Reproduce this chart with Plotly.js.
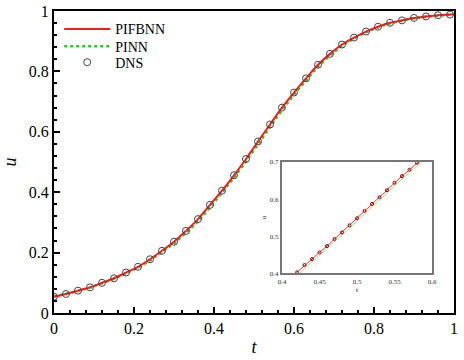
<!DOCTYPE html>
<html>
<head>
<meta charset="utf-8">
<script src="https://cdn.plot.ly/plotly-3.0.1.min.js"></script>
<style>
  html, body { margin: 0; padding: 0; background: #fff; }
  #chart { width: 464px; height: 360px; }
</style>
</head>
<body>
<div id="chart"></div>
<script>
// main panel: sample times (every 0.03) + end point
let lineT = [0, 0.03, 0.06, 0.09, 0.12, 0.15, 0.18, 0.21, 0.24, 0.27, 0.30, 0.33, 0.36, 0.39, 0.42, 0.45, 0.48,
    0.51, 0.54, 0.57, 0.60, 0.63, 0.66, 0.69, 0.72, 0.75, 0.78, 0.81, 0.84, 0.87, 0.90, 0.93, 0.96, 0.99, 1.0];
let pifbnnU = [0.054, 0.063, 0.074, 0.085, 0.100, 0.115, 0.134, 0.153, 0.178, 0.206, 0.236, 0.272, 0.311, 0.358, 0.405, 0.456, 0.510,
    0.568, 0.624, 0.680, 0.730, 0.777, 0.822, 0.858, 0.889, 0.912, 0.932, 0.948, 0.961, 0.969, 0.977, 0.982, 0.986, 0.988, 0.989];
let pinnU = [0.055, 0.063, 0.073, 0.084, 0.098, 0.113, 0.131, 0.150, 0.174, 0.201, 0.230, 0.265, 0.303, 0.349, 0.397, 0.448, 0.502,
    0.560, 0.616, 0.672, 0.723, 0.771, 0.816, 0.853, 0.885, 0.909, 0.930, 0.946, 0.959, 0.968, 0.976, 0.981, 0.985, 0.988, 0.989];
let dnsT = [0, 0.03, 0.06, 0.09, 0.12, 0.15, 0.18, 0.21, 0.24, 0.27, 0.30, 0.33, 0.36, 0.39, 0.42, 0.45, 0.48,
    0.51, 0.54, 0.57, 0.60, 0.63, 0.66, 0.69, 0.72, 0.75, 0.78, 0.81, 0.84, 0.87, 0.90, 0.93, 0.96, 0.99];
let dnsU = [0.054, 0.063, 0.074, 0.085, 0.100, 0.115, 0.134, 0.153, 0.178, 0.206, 0.236, 0.272, 0.311, 0.358, 0.405, 0.456, 0.510,
    0.568, 0.624, 0.680, 0.730, 0.777, 0.822, 0.858, 0.889, 0.912, 0.932, 0.948, 0.961, 0.969, 0.977, 0.982, 0.986, 0.988];

// inset (zoom on 0.4 - 0.6)
let insetT = [0.41, 0.42, 0.43, 0.44, 0.45, 0.46, 0.47, 0.48, 0.49, 0.50, 0.51, 0.52, 0.53, 0.54, 0.55, 0.56, 0.57, 0.58, 0.59];
let insetPifbnn = [0.384, 0.402, 0.422, 0.438, 0.456, 0.473, 0.492, 0.510, 0.529, 0.548, 0.568, 0.587, 0.605, 0.624, 0.644, 0.662, 0.679, 0.698, 0.716];
let insetPinn = [0.376, 0.394, 0.413, 0.430, 0.448, 0.465, 0.484, 0.502, 0.521, 0.540, 0.560, 0.579, 0.597, 0.616, 0.636, 0.654, 0.671, 0.690, 0.708];
let insetDnsT = [0.42, 0.43, 0.44, 0.45, 0.46, 0.47, 0.48, 0.49, 0.50, 0.51, 0.52, 0.53, 0.54, 0.55, 0.56, 0.57, 0.58];
let insetDnsU = [0.402, 0.422, 0.438, 0.456, 0.473, 0.492, 0.510, 0.529, 0.548, 0.568, 0.587, 0.605, 0.624, 0.644, 0.662, 0.679, 0.698];

const serif = "Liberation Serif, Times New Roman, serif";

let traces = [
    {x: lineT, y: pinnU, name: 'PINN', mode: 'lines', legend: 'legend2',
     line: {color: '#22cc22', width: 2.5, dash: 'dot'}},
    {x: lineT, y: pifbnnU, name: 'PIFBNN', mode: 'lines', legend: 'legend',
     line: {color: '#ff1a1a', width: 2, shape: 'spline'}},
    {x: dnsT, y: dnsU, name: 'DNS', mode: 'markers', legend: 'legend3',
     marker: {symbol: 'circle-open', size: 7, color: '#444', line: {width: 1}}},
    // inset
    {x: insetT, y: insetPinn, mode: 'lines', xaxis: 'x2', yaxis: 'y2', showlegend: false,
     line: {color: '#88ee88', width: 1}},
    {x: insetT, y: insetPifbnn, mode: 'lines', xaxis: 'x2', yaxis: 'y2', showlegend: false,
     line: {color: '#ff3030', width: 1}},
    {x: insetDnsT, y: insetDnsU, mode: 'markers', xaxis: 'x2', yaxis: 'y2', showlegend: false,
     marker: {symbol: 'circle-open', size: 3, color: '#800', line: {width: 1}}}
];

function legendAt(y) {
    return {x: 0.013, y: y, xanchor: 'left', yanchor: 'middle', bgcolor: 'rgba(0,0,0,0)',
            font: {size: 14, family: serif}, itemwidth: 46};
}

let layout = {
    width: 464, height: 360,
    margin: {l: 54, r: 10, t: 11, b: 47},
    paper_bgcolor: '#fff', plot_bgcolor: '#fff',
    font: {family: serif, color: '#000', size: 16},
    showlegend: true,
    legend: legendAt(0.939),
    legend2: legendAt(0.882),
    legend3: legendAt(0.829),
    xaxis: {
        range: [0, 1], dtick: 0.2, tickformat: '~g',
        showline: true, linecolor: '#000', linewidth: 2, mirror: true,
        ticks: 'inside', ticklen: 6, tickwidth: 2, tickcolor: '#000',
        minor: {dtick: 0.04, ticks: 'inside', ticklen: 3, tickwidth: 2, tickcolor: '#000'},
        showgrid: false, zeroline: false,
        title: {text: '<i>t</i>', font: {size: 18, family: serif}, standoff: 4}
    },
    yaxis: {
        range: [0, 1], dtick: 0.2, tickformat: '~g',
        showline: true, linecolor: '#000', linewidth: 2, mirror: true,
        ticks: 'inside', ticklen: 6, tickwidth: 2, tickcolor: '#000',
        minor: {dtick: 0.04, ticks: 'inside', ticklen: 3, tickwidth: 2, tickcolor: '#000'},
        showgrid: false, zeroline: false,
        title: {text: '<i>u</i>', font: {size: 18, family: serif}, standoff: 8}
    },
    xaxis2: {
        domain: [0.57, 0.945], anchor: 'y2', range: [0.4, 0.6], dtick: 0.05, tickformat: '~g',
        showline: true, linecolor: '#777', linewidth: 2, mirror: true,
        ticks: '', showgrid: false, zeroline: false,
        tickfont: {size: 7, family: serif, color: '#333'},
        title: {text: 't', font: {size: 7, family: serif}, standoff: 0}
    },
    yaxis2: {
        domain: [0.132, 0.5], anchor: 'x2', range: [0.4, 0.7], dtick: 0.1, tickformat: '~g',
        showline: true, linecolor: '#777', linewidth: 2, mirror: true,
        ticks: '', showgrid: false, zeroline: false,
        tickfont: {size: 7, family: serif, color: '#333'},
        title: {text: 'u', font: {size: 7, family: serif}, standoff: 2}
    }
};

Plotly.newPlot('chart', traces, layout, {displayModeBar: false, staticPlot: true});
</script>
</body>
</html>
